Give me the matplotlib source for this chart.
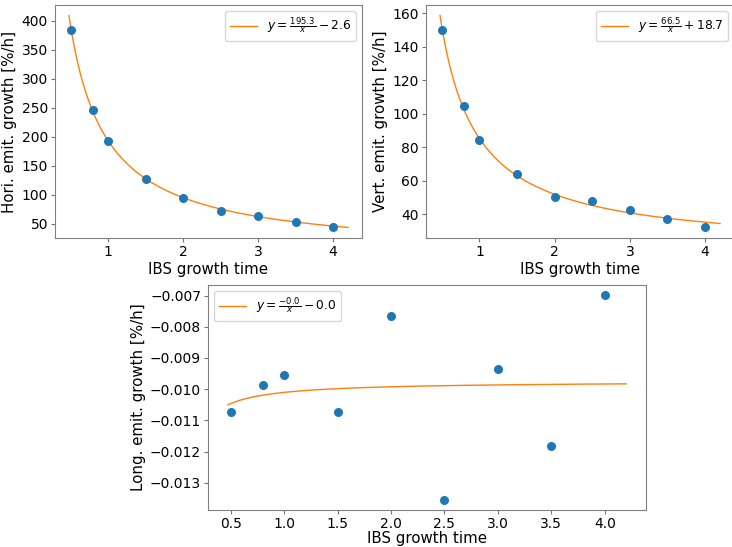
import numpy as np
import matplotlib.pyplot as plt
from matplotlib.ticker import MultipleLocator

# IBS growth times scanned
growth_time = [0.5, 0.8, 1.0, 1.5, 2.0, 2.5, 3.0, 3.5, 4.0]

# measured emittance growth rates [%/h]
hori_growth = [384.5, 245.5, 193.5, 126.5, 94.5, 72.0, 63.5, 53.0, 44.5]
vert_growth = [150.2, 104.9, 84.5, 64.0, 50.4, 47.8, 42.6, 37.0, 32.2]
long_growth = [-0.01074, -0.00987, -0.00954, -0.01074, -0.00765,
               -0.01354, -0.00935, -0.01181, -0.00699]

# fit parameters for y = a/x + b
hori_fit = (195.3, -2.6)
vert_fit = (66.5, 18.7)
long_fit = (-0.000359, -0.009745)

ylabels = ["Hori. emit. growth [%/h]",
           "Vert. emit. growth [%/h]",
           "Long. emit. growth [%/h]"]


def fit_label(a, b):
    sign = "-" if b < 0 else "+"
    return r"$y = \frac{%.1f}{x} %s %.1f$" % (a, sign, abs(b))


def plot_growth(ax, x, y, fit, ylabel, legend_loc, xpad=2):
    a, b = fit
    xs = np.linspace(min(x) * 0.95, max(x) * 1.05, 200)
    ax.scatter(x, y, s=30, color="C0", zorder=3)
    ax.plot(xs, a / xs + b, color="C1", lw=1.0, label=fit_label(a, b))
    ax.set_xlabel("IBS growth time", fontsize=10.8, labelpad=xpad)
    ax.set_ylabel(ylabel, fontsize=10.8, labelpad=3)
    ax.tick_params(labelsize=10, length=3, color="0.45", pad=2)
    for sp in ax.spines.values():
        sp.set_edgecolor("0.5")
    ax.legend(loc=legend_loc, fontsize=8.8, handlelength=2.2)


fig = plt.figure(figsize=(7.32, 5.47), dpi=100)
ax1 = fig.add_axes([0.0751, 0.5649, 0.4194, 0.4260])
ax2 = fig.add_axes([0.5820, 0.5649, 0.4208, 0.4260])
ax3 = fig.add_axes([0.2842, 0.0680, 0.5984, 0.4110])

plot_growth(ax1, growth_time, hori_growth, hori_fit, ylabels[0], "upper right")
plot_growth(ax2, growth_time, vert_growth, vert_fit, ylabels[1], "upper right")
plot_growth(ax3, growth_time, long_growth, long_fit, ylabels[2], "upper left", xpad=0)
ax1.yaxis.set_major_locator(MultipleLocator(50))

fig.savefig("out.png", dpi=100)
